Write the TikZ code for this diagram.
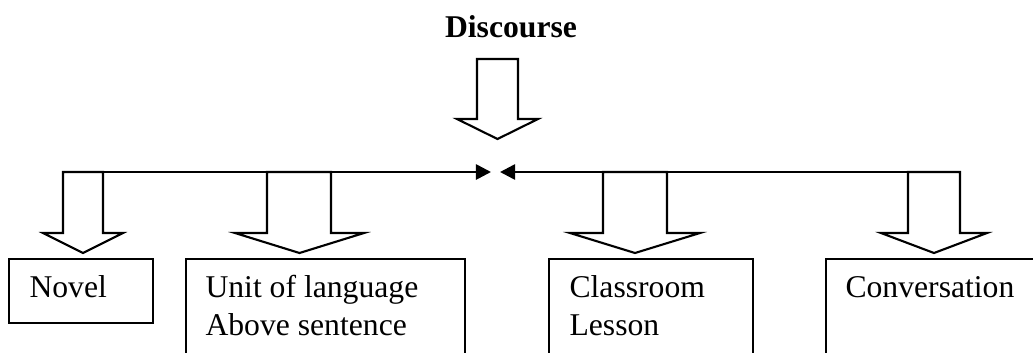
\documentclass[tikz,border=0pt]{standalone}
\usepackage{fontspec}
\setmainfont{Liberation Serif}
\usepackage{tikz}
\usetikzlibrary{arrows.meta, positioning}

\begin{document}
\begin{tikzpicture}[
        x=0.379pt, y=-0.379pt,
        every node/.style={font=\fontsize{12}{14.4}\selectfont},
        box/.style={rectangle, draw, line width=0.8pt, anchor=north west, inner sep=0pt},
        txt/.style={anchor=base west, inner sep=0pt, align=left},
        title/.style={font=\fontsize{12}{14.4}\selectfont\bfseries},
        hollow/.style={draw, line width=0.8pt, line join=miter, fill=white},
        link/.style={line width=1pt, -{Triangle[length=5.7pt, width=5.7pt]}}
    ]
        \useasboundingbox (0,0) rectangle (1033,352);
        \clip (0,0) rectangle (1033,352);

        \node[title] (discourse) at (511,27) {Discourse};

        % boxes (the lower ones run past the page)
        \node[box, minimum width=144*0.379pt, minimum height=64*0.379pt] (novel) at (8,258) {};
        \node[box, minimum width=279*0.379pt, minimum height=130*0.379pt] (unit) at (185,258) {};
        \node[box, minimum width=204*0.379pt, minimum height=130*0.379pt] (class) at (548,258) {};
        \node[box, minimum width=260*0.379pt, minimum height=130*0.379pt] (conv) at (825,258) {};

        % base of a two-line text is its last line
        \node[txt] (novel-t) at ([shift={(21,39)}]novel.north west) {Novel};
        \node[txt] (unit-t) at ([shift={(20,77)}]unit.north west) {Unit of language\\Above sentence};
        \node[txt] (class-t) at ([shift={(21,77)}]class.north west) {Classroom\\Lesson};
        \node[txt] (conv-t) at ([shift={(20,39)}]conv.north west) {Conversation};

        % the bar
        \coordinate (barL) at (63,172);
        \coordinate (barR) at (960,172);
        \coordinate (hubL) at (491,172);
        \coordinate (hubR) at (500,172);
        \draw[link] (barL) -- (hubL);
        \draw[link] (barR) -- (hubR);

        % hollow arrows: shaft left/right, head left/right, top, head, tip
        \foreach \sa/\sb/\ha/\hb/\yt/\yh/\yp in {
            477/518/457/538/59/119/139,
            63/103/43/123/172/233/253,
            267/331/235/364/172/233/253,
            603/667/570/700/172/233/253,
            908/960/881/987/172/233/253}
            \draw[hollow] (\sa,\yt) -- (\sa,\yh) -- (\ha,\yh) -- ({(\ha+\hb)/2},\yp)
                -- (\hb,\yh) -- (\sb,\yh) -- (\sb,\yt) -- cycle;
    \end{tikzpicture}
\end{document}
